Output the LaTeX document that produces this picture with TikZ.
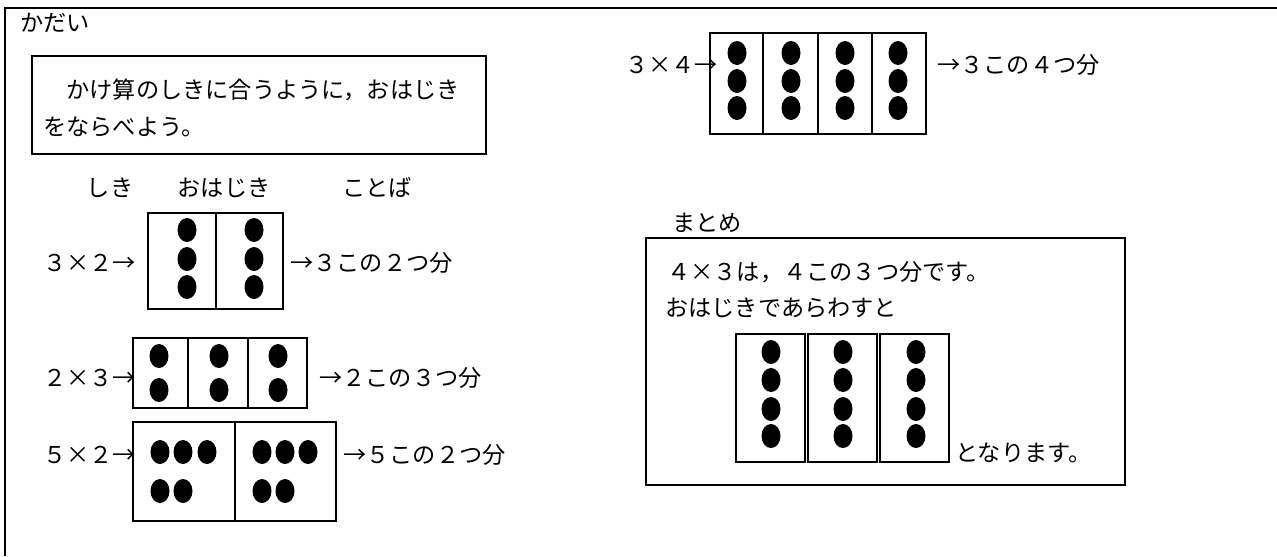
\documentclass[tikz,border=0pt]{standalone}
\usepackage{fontspec}
\setmainfont{Noto Sans CJK JP}
\usetikzlibrary{positioning}

\tikzset{
  txt/.style={inner sep=0pt, anchor=west, font=\fontsize{13.2}{16}\selectfont},
  waku/.style={line width=1pt},
}
\newcommand{\hajiki}[2]{\fill (#1,#2) ellipse [x radius=0.19cm, y radius=0.24cm];}

\begin{document}
\begin{tikzpicture}[x=0.02cm, y=-0.02cm]
	\useasboundingbox (0,0) rectangle (1277,556);
	\draw[line width=1.2pt] (1277,8) -- (5,8) -- (5,556);
	\node[txt] (kadai) at (20,23) {かだい};
	% kadai box
	\draw[waku] (32,56) rectangle (486,154);
	\node[txt] (kadai1) at (43,90) {　かけ算のしきに合うように，おはじき};
	\node[txt] (kadai2) at (43,127) {をならべよう。};
	\node[txt, anchor=center] (hsiki) at (110,188) {しき};
	\node[txt, anchor=center] (hhajiki) at (224,188) {おはじき};
	\node[txt, anchor=center] (hkotoba) at (377,188) {ことば};
	% 3 x 2
	\node[txt] (sikiA) at (43,263) {３×２→};
	\draw[waku] (148,213) rectangle (283,309);
	\draw[waku] (216,213) -- (216,309);
	\foreach \x in {187,254} {\foreach \y in {230,259,287} {\hajiki{\x}{\y}}}
	\node[txt] (kotobaA) at (290,263) {→３この２つ分};
	% 2 x 3
	\node[txt] (sikiB) at (43,378) {２×３→};
	\draw[waku] (133,338) rectangle (307,408);
	\foreach \x in {188,248} {\draw[waku] (\x,338) -- (\x,408);}
	\foreach \x in {159,219,278} {\foreach \y in {356,390} {\hajiki{\x}{\y}}}
	\node[txt] (kotobaB) at (319,378) {→２この３つ分};
	% 5 x 2
	\node[txt] (sikiC) at (43,455) {５×２→};
	\draw[waku] (133,422) rectangle (336,521);
	\draw[waku] (235,422) -- (235,521);
	\foreach \x in {160,183,207,262,285,308} {\hajiki{\x}{452}}
	\foreach \x in {160,183,262,285} {\hajiki{\x}{491}}
	\node[txt] (kotobaC) at (343,455) {→５この２つ分};
	% 3 x 4
	\node[txt] (sikiD) at (625,65) {３×４→};
	\draw[waku] (710,33) rectangle (926,134);
	\foreach \x in {763,818,872} {\draw[waku] (\x,33) -- (\x,134);}
	\foreach \x in {737,791,845,898} {\foreach \y in {53,81,108} {\hajiki{\x}{\y}}}
	\node[txt] (kotobaD) at (937,65) {→３この４つ分};
	% matome
	\node[txt] (matome) at (672,223) {まとめ};
	\draw[waku] (646,238) rectangle (1125,485);
	\node[txt] (matome1) at (667,272) {４×３は，４この３つ分です。};
	\node[txt] (matome2) at (665,308) {おはじきであらわすと};
	\foreach \a/\b in {736/805,808/877,880/949} {\draw[waku] (\a,334) rectangle (\b,462);}
	\foreach \x in {771,843,916} {\foreach \y in {352,380,409,436} {\hajiki{\x}{\y}}}
	\node[txt] (matome3) at (955,453) {となります。};
\end{tikzpicture}
\end{document}
